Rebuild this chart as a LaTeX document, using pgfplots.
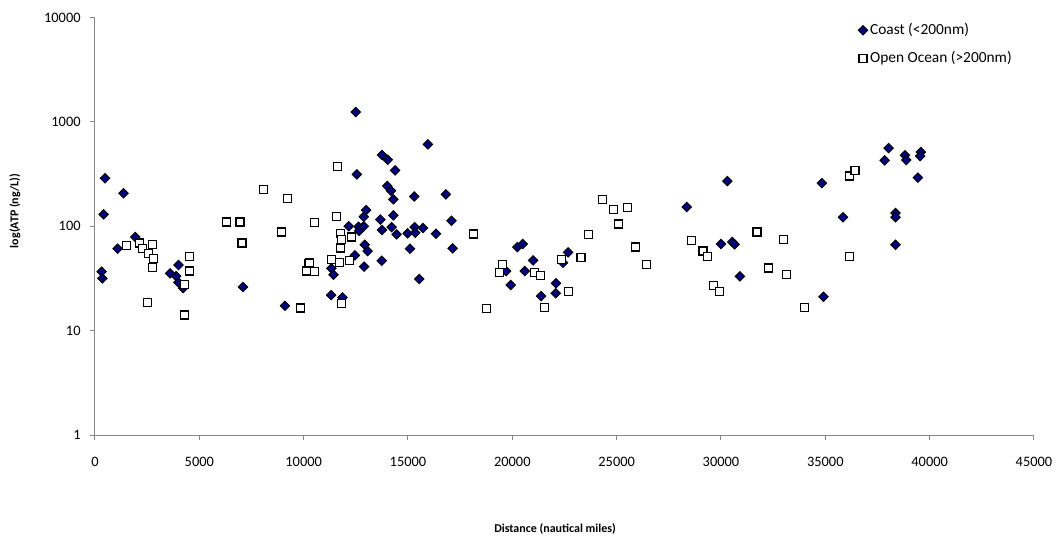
\documentclass[border=0pt]{standalone}
\usepackage{fontspec}
\setmainfont{Carlito}
\usepackage{pgfplots}
\pgfplotsset{compat=1.18}
\definecolor{axgray}{RGB}{134,134,134}
\definecolor{navy}{RGB}{0,0,128}

\begin{document}
\begin{tikzpicture}
  % page = 1062x541 px, 1 px = 0.5pt; axis box lower left at px (95,435)
  \path[use as bounding box] (-47.5pt,-53pt) rectangle (483.5pt,217.5pt);
  \begin{axis}[
      at={(0,0)}, anchor=south west,
      scale only axis,
      width=469.5pt, height=208.75pt,
      xmin=0, xmax=45000,
      scaled x ticks=false,
      ymode=log, ymin=1, ymax=10000,
      axis x line*=bottom, axis y line*=left,
      axis line style={draw=axgray,line width=0.5pt,-},
      tick align=outside,
      major tick length=2.5pt,
      tick style={draw=axgray,line width=0.5pt},
      yminorticks=false,
      xtick={0,5000,10000,15000,20000,25000,30000,35000,40000,45000},
      xticklabels={0,5000,10000,15000,20000,25000,30000,35000,40000,45000},
      ytick={1,10,100,1000,10000},
      yticklabels={1,10,100,1000,10000},
      ticklabel style={font=\fontsize{7.2}{8}\selectfont},
      xticklabel style={anchor=center,inner sep=0pt,yshift=-11pt},
      yticklabel style={anchor=east,inner sep=0pt,xshift=-4.5pt},
      xlabel={Distance (nautical miles)},
      ylabel={log(ATP (ng/L))},
      label style={font=\bfseries\fontsize{6}{7}\selectfont},
      xlabel style={at={(axis description cs:0.49,-0.225)},anchor=center},
      ylabel style={at={(axis description cs:-0.0852,0.5365)},anchor=center,rotate=0},
      legend style={at={(axis description cs:0.8125,0.993)},anchor=north west,
        draw=none,fill=none,inner sep=0pt,row sep=4.6pt,
        nodes={inner sep=1.2pt,anchor=west},
        font=\fontsize{7.7}{8.5}\selectfont},
      legend cell align=left,
      legend image code/.code={\draw[mark repeat=2,mark phase=2,#1]
        plot coordinates {(0pt,0pt) (3pt,0pt) (6pt,0pt)};},
    ]
    \addplot[only marks,mark=square*,mark size=1.65pt,
      mark options={rotate=45,fill=navy,draw=black,line width=0.5pt}]
      coordinates {
        (478,288) (1371,207) (415,130) (1929,79) (1084,61) (318,36.7) (351,31.7)
        (4001,42.5) (3603,35.4) (3890,33.3) (4001,29) (4224,25.6) (7093,26.2)
        (9101,17.3) (11318,21.9) (11860,20.8) (12162,100) (12545,314) (12450,52.6)
        (11333,39.5) (11430,34.3)
        (12498,1242) (15955,609) (13756,481) (14027,434) (14378,343) (14010,243)
        (14186,219) (14298,181) (15302,193) (16817,202) (12992,143) (12880,123)
        (14298,127) (13677,116) (17088,113) (12625,99) (12880,100) (12657,90.5)
        (13756,92) (14217,98) (14457,83.6) (14983,85.5) (15318,98) (15350,86.7)
        (15718,96) (16340,84.8) (12927,66.5) (13070,57.8) (13740,46.7) (15096,61)
        (17136,61.4) (12896,41) (15541,31.2)
        (20243,63.2) (20500,67.5) (19702,37.2) (19925,27.3) (20993,47.1)
        (20596,37.2) (21375,21.4)
        (22670,56.2) (22431,44.7) (22096,28.4) (22080,22.8) (28358,153)
        (30305,271) (34830,259) (29998,67.5) (30541,70.6) (30653,67.1) (30907,33.1)
        (34910,21.1) (35852,122) (38033,561) (37842,428) (38818,478) (38880,431)
        (39580,514) (39546,470) (39438,292) (38368,134) (38368,122) (38368,66.5)
      };
    \addlegendentry{Coast (<200nm)}
    \addplot[only marks,mark=square*,mark size=2pt,
      mark options={fill=white,draw=black,line width=0.6pt}]
      coordinates {
        (1515,65.6) (2137,69) (2281,61) (2550,54.6) (2741,67) (2821,48.9)
        (2774,40) (2519,18.7) (4528,51) (4511,37.2) (4288,27.5) (4288,14.1)
        (6312,110) (6950,110) (7046,69) (8082,226) (9213,184) (8926,88)
        (10535,108) (10216,43.7) (10280,44.5) (10136,37.2) (10520,36.7) (9836,16.5)
        (11604,377) (11572,123) (11780,84.8) (11795,74.3) (11748,61.8) (11349,48.2)
        (11716,44.7) (12290,78.8) (12194,46.7) (11828,18.3)
        (18156,84.2) (19527,43.2) (19368,35.9) (21075,35.9) (21360,33.6)
        (18778,16.2) (21535,16.8)
        (22345,48.2) (23287,50.4) (22700,23.9) (23656,83.6) (24325,182)
        (24866,145) (25521,150) (25105,105) (25903,63.2) (26429,42.8) (28581,72.6)
        (29137,57.9) (29347,51) (29648,26.9) (29935,23.8) (31721,88) (32280,39.8)
        (32998,74.3) (33126,34.6) (33987,16.6) (36153,51) (36153,303) (36424,345)
      };
    \addlegendentry{Open Ocean (>200nm)}
  \end{axis}
\end{tikzpicture}
\end{document}
